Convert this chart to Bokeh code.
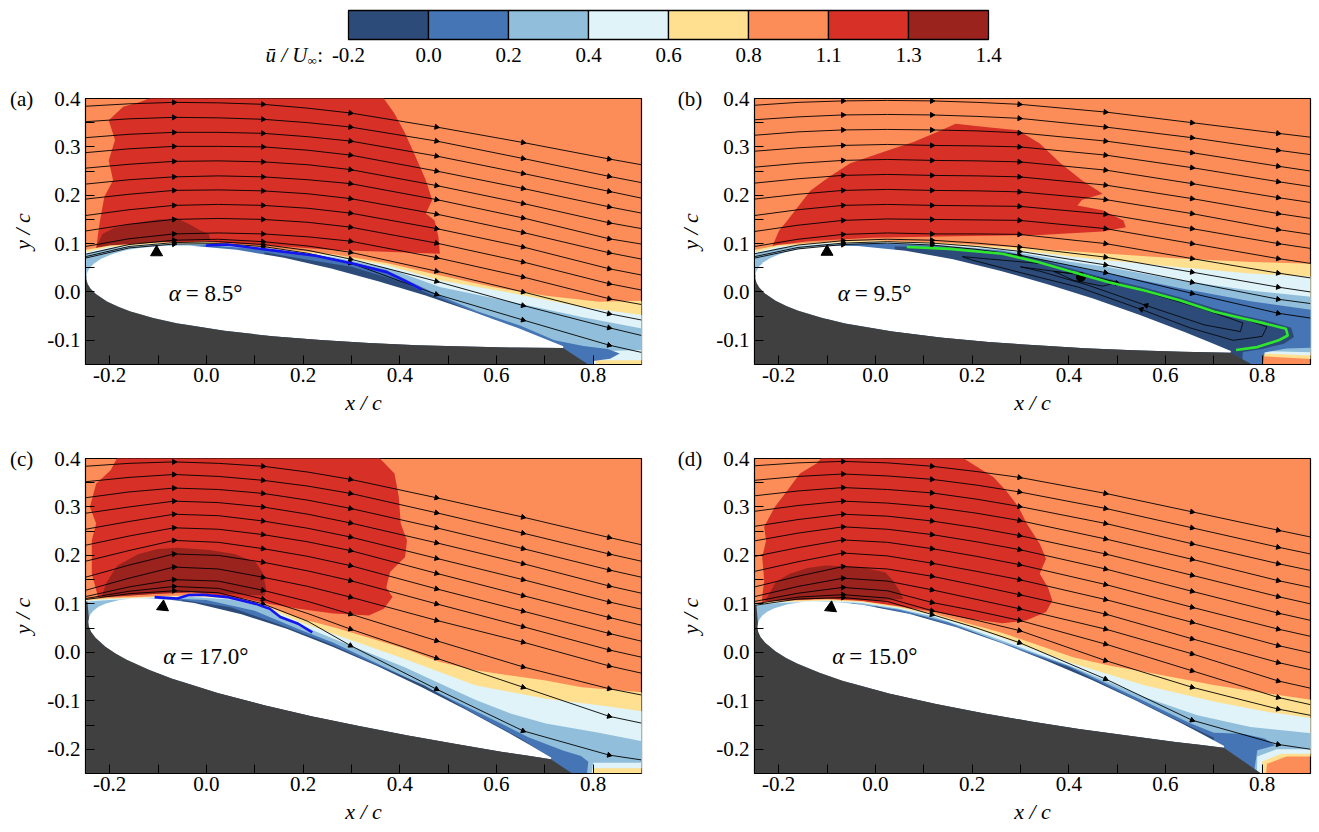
import math
from bokeh.plotting import figure
from bokeh.layouts import column, row
from bokeh.models import Range1d, FixedTicker, NumeralTickFormatter
from bokeh.core.properties import value
from bokeh.embed import file_html
from bokeh.resources import INLINE

FONT = "'Liberation Serif', 'Times New Roman', serif"

# ---------------- colour scale ----------------
CB_LABELS = ["-0.2", "0.0", "0.2", "0.4", "0.6", "0.8", "1.1", "1.3", "1.4"]
CB_COLORS = ["#2d4b78", "#4575b4", "#91bfdb", "#e0f3f8", "#fee090", "#fc8d59", "#d73027", "#9b231e"]
SHADOW_COLOR = "#404040"

# ---------------- airfoil section (chord fraction, upper / lower ordinate) ----------------
AF_S = [0, 0.001, 0.005, 0.0125, 0.025, 0.05, 0.075, 0.1, 0.15, 0.2, 0.3, 0.4, 0.5, 0.6, 0.7, 0.8, 0.9, 0.95, 1.0]
AF_UP = [0, .0080, .0177, .0278, .0389, .0539, .0646, .0729, .0848, .0927, .0991, .0972, .0895, .0780, .0635, .0455, .0253, .0138, .0018]
AF_LO = [0, -.0078, -.0169, -.0259, -.0352, -.0468, -.0544, -.0598, -.0665, -.0702, -.0710, -.0672, -.0603, -.0513, -.0410, -.0288, -.0161, -.0090, -.0018]

# ---------------- axes ----------------
X_TICKS = [-0.2, 0.0, 0.2, 0.4, 0.6, 0.8]
X_MINOR = [-0.1, 0.1, 0.3, 0.5, 0.7]
Y_TICKS_AB = [-0.1, 0.0, 0.1, 0.2, 0.3, 0.4]
Y_MINOR_AB = [-0.15, -0.05, 0.05, 0.15, 0.25, 0.35]
Y_TICKS_CD = [-0.2, -0.1, 0.0, 0.1, 0.2, 0.3, 0.4]
Y_MINOR_CD = [-0.25, -0.15, -0.05, 0.05, 0.15, 0.25, 0.35]

# ---------------- streamline stations ----------------
SX = [-0.25, -0.16, -0.067, 0.025, 0.117, 0.21, 0.298, 0.476, 0.655, 0.833, 0.90]
ARROW_IDX = [2, 4, 6, 7, 8, 9]

# ================= panel (a) alpha = 8.5 =================
ALPHA_A = "8.5"
YBOT_A = -0.15
LE_A = (-0.248, 0.034)
TE_A = (0.738, -0.114)
SHADOW_TOP_A = 0.031
SHADOW_BOTX_A = 0.79
RED_A = [(-0.228, 0.089), (-0.224, 0.12), (-0.22, 0.148), (-0.211, 0.197), (-0.193, 0.231), (-0.202, 0.272),
         (-0.189, 0.314), (-0.202, 0.355), (-0.172, 0.383), (-0.137, 0.393), (-0.093, 0.41), (0.367, 0.41),
         (0.367, 0.4), (0.389, 0.369), (0.411, 0.328), (0.433, 0.279), (0.454, 0.231), (0.467, 0.19),
         (0.454, 0.162), (0.472, 0.148), (0.48, 0.114), (0.483, 0.079), (0.4, 0.082), (0.263, 0.087),
         (0.116, 0.097), (0.0, 0.104), (-0.1, 0.102), (-0.2, 0.094)]
DKRED_A = [(-0.228, 0.092), (-0.215, 0.12), (-0.19, 0.133), (-0.15, 0.142), (-0.1, 0.15), (-0.06, 0.152),
           (-0.035, 0.14), (-0.015, 0.128), (0.005, 0.12), (0.008, 0.107), (-0.05, 0.105), (-0.15, 0.1), (-0.21, 0.095)]
BAND08_A = [(-0.26, 0.085), (-0.2, 0.096), (-0.1, 0.102), (0.0, 0.104), (0.116, 0.093), (0.263, 0.078), (0.373, 0.06),
            (0.483, 0.034), (0.593, 0.01), (0.702, -0.008), (0.812, -0.02), (0.91, -0.018), (0.91, -0.4), (-0.26, -0.4)]
BAND06_A = [(-0.26, 0.08), (-0.2, 0.093), (-0.1, 0.1), (0.0, 0.101), (0.116, 0.091), (0.263, 0.075), (0.373, 0.055),
            (0.483, 0.024), (0.63, -0.002), (0.776, -0.031), (0.91, -0.049), (0.91, -0.141), (0.805, -0.141),
            (0.795, -0.4), (-0.26, -0.4)]
BAND04_A = [(-0.26, 0.075), (-0.2, 0.09), (-0.1, 0.098), (0.0, 0.099), (0.116, 0.089), (0.263, 0.072), (0.373, 0.05),
            (0.483, 0.01), (0.63, -0.02), (0.776, -0.052), (0.91, -0.077), (0.91, -0.12), (0.83, -0.122),
            (0.8, -0.13), (0.79, -0.4), (-0.26, -0.4)]
BAND02_A = [(-0.05, 0.094), (0.0, 0.097), (0.116, 0.088), (0.263, 0.069), (0.373, 0.045), (0.483, -0.008),
            (0.56, -0.04), (0.65, -0.07), (0.72, -0.1), (0.78, -0.112), (0.83, -0.118), (0.855, -0.127),
            (0.835, -0.138), (0.8, -0.143), (0.785, -0.4), (-0.05, -0.4)]
BAND00_A = [(0.12, 0.082), (0.2, 0.068), (0.3, 0.052), (0.4, 0.022), (0.47, -0.008), (0.55, -0.04), (0.6, -0.058),
            (0.6, -0.4), (0.12, -0.4)]
STREAM_A = [
    [0.384, 0.389, 0.392, 0.391, 0.388, 0.380, 0.370, 0.341, 0.309, 0.275, 0.263],
    [0.352, 0.358, 0.361, 0.360, 0.357, 0.350, 0.341, 0.312, 0.276, 0.239, 0.226],
    [0.319, 0.326, 0.330, 0.330, 0.328, 0.321, 0.312, 0.281, 0.245, 0.208, 0.194],
    [0.288, 0.296, 0.301, 0.301, 0.300, 0.293, 0.283, 0.250, 0.214, 0.176, 0.163],
    [0.256, 0.264, 0.270, 0.271, 0.269, 0.263, 0.253, 0.220, 0.183, 0.143, 0.131],
    [0.223, 0.232, 0.238, 0.240, 0.238, 0.232, 0.224, 0.191, 0.153, 0.110, 0.099],
    [0.192, 0.202, 0.210, 0.211, 0.209, 0.203, 0.193, 0.161, 0.123, 0.081, 0.068],
    [0.158, 0.170, 0.179, 0.181, 0.179, 0.173, 0.163, 0.131, 0.093, 0.048, 0.035],
    [0.126, 0.140, 0.150, 0.152, 0.150, 0.144, 0.134, 0.101, 0.062, 0.017, 0.004],
    [0.094, 0.110, 0.120, 0.122, 0.120, 0.114, 0.105, 0.071, 0.031, -0.014, -0.026],
    [0.078, 0.098, 0.107, 0.109, 0.104, 0.095, 0.082, 0.043, 0.000, -0.045, -0.058],
    [0.073, 0.094, 0.102, 0.104, 0.098, 0.086, 0.068, 0.022, -0.028, -0.074, -0.090],
    [0.070, 0.091, 0.099, 0.100, 0.094, 0.080, 0.060, -0.005, -0.058, -0.110, -0.125],
]
SEP_A = [(-0.001, 0.096), (0.043, 0.098), (0.138, 0.086), (0.226, 0.075), (0.307, 0.058), (0.373, 0.041),
         (0.409, 0.024), (0.446, 0.005)]
MARK_A = (-0.103, 0.082)
TEXTPOS_A = (-0.078, -0.004)

# ================= panel (b) alpha = 9.5 =================
ALPHA_B = "9.5"
YBOT_B = -0.15
LE_B = (-0.248, 0.036)
TE_B = (0.735, -0.124)
SHADOW_TOP_B = 0.034
SHADOW_BOTX_B = 0.779
RED_B = [(-0.213, 0.095), (-0.199, 0.127), (-0.182, 0.148), (-0.134, 0.21), (-0.095, 0.238), (-0.052, 0.266),
         (0.027, 0.293), (0.079, 0.31), (0.122, 0.328), (0.166, 0.348), (0.227, 0.341), (0.296, 0.334),
         (0.34, 0.307), (0.383, 0.266), (0.427, 0.231), (0.47, 0.203), (0.427, 0.19), (0.418, 0.179),
         (0.47, 0.169), (0.513, 0.148), (0.518, 0.134), (0.47, 0.125), (0.34, 0.118), (0.166, 0.115),
         (-0.008, 0.112), (-0.139, 0.105), (-0.2, 0.097)]
DKRED_B = []
BAND08_B = [(-0.26, 0.085), (-0.2, 0.097), (-0.1, 0.104), (0.0, 0.107), (0.116, 0.103), (0.263, 0.094), (0.336, 0.089),
            (0.483, 0.079), (0.629, 0.069), (0.776, 0.062), (0.91, 0.058), (0.91, -0.139), (0.80, -0.133),
            (0.785, -0.4), (-0.26, -0.4)]
BAND06_B = [(-0.26, 0.08), (-0.2, 0.094), (-0.1, 0.101), (0.0, 0.104), (0.116, 0.1), (0.263, 0.09), (0.4, 0.074),
            (0.483, 0.065), (0.629, 0.051), (0.776, 0.038), (0.91, 0.031), (0.91, -0.132), (0.80, -0.127),
            (0.78, -0.4), (-0.26, -0.4)]
BAND04_B = [(-0.26, 0.075), (-0.2, 0.091), (-0.1, 0.099), (0.0, 0.102), (0.116, 0.098), (0.263, 0.087), (0.4, 0.063),
            (0.483, 0.051), (0.629, 0.024), (0.776, 0.003), (0.91, -0.011), (0.91, -0.125), (0.80, -0.122),
            (0.775, -0.4), (-0.26, -0.4)]
BAND02_B = [(-0.1, 0.096), (0.0, 0.1), (0.116, 0.096), (0.263, 0.085), (0.4, 0.055), (0.483, 0.038), (0.629, 0.008),
            (0.776, -0.019), (0.91, -0.038), (0.91, -0.115), (0.85, -0.117), (0.805, -0.125), (0.77, -0.4), (-0.1, -0.4)]
BAND00_B = [(0.04, 0.094), (0.153, 0.092), (0.263, 0.081), (0.336, 0.068), (0.409, 0.047), (0.483, 0.027),
            (0.556, 0.009), (0.629, -0.011), (0.702, -0.034), (0.761, -0.049), (0.812, -0.06), (0.86, -0.074),
            (0.866, -0.093), (0.845, -0.107), (0.80, -0.118), (0.76, -0.124), (0.74, -0.4), (0.04, -0.4)]
STREAM_B = [
    [0.386, 0.392, 0.395, 0.396, 0.395, 0.392, 0.388, 0.372, 0.350, 0.328, 0.320],
    [0.356, 0.362, 0.366, 0.367, 0.366, 0.363, 0.359, 0.341, 0.319, 0.293, 0.284],
    [0.324, 0.331, 0.335, 0.336, 0.335, 0.333, 0.329, 0.312, 0.288, 0.260, 0.250],
    [0.291, 0.298, 0.303, 0.305, 0.303, 0.302, 0.300, 0.283, 0.257, 0.228, 0.218],
    [0.258, 0.266, 0.272, 0.274, 0.272, 0.271, 0.269, 0.252, 0.224, 0.195, 0.185],
    [0.225, 0.234, 0.241, 0.243, 0.241, 0.240, 0.238, 0.221, 0.193, 0.162, 0.152],
    [0.192, 0.202, 0.210, 0.212, 0.210, 0.209, 0.207, 0.191, 0.162, 0.129, 0.119],
    [0.158, 0.170, 0.179, 0.181, 0.179, 0.178, 0.177, 0.161, 0.131, 0.100, 0.090],
    [0.125, 0.138, 0.148, 0.151, 0.150, 0.149, 0.148, 0.131, 0.100, 0.069, 0.059],
    [0.094, 0.109, 0.119, 0.122, 0.120, 0.120, 0.119, 0.100, 0.069, 0.039, 0.029],
    [0.079, 0.097, 0.106, 0.109, 0.107, 0.101, 0.093, 0.072, 0.041, 0.010, 0.000],
    [0.073, 0.092, 0.101, 0.104, 0.101, 0.094, 0.084, 0.056, 0.020, -0.015, -0.024],
    [0.070, 0.089, 0.098, 0.101, 0.097, 0.088, 0.076, 0.040, -0.003, -0.044, -0.054],
]
LOOPS_B = [
    [(0.18, 0.073), (0.35, 0.058), (0.5, 0.018), (0.65, -0.025), (0.76, -0.055), (0.81, -0.072), (0.80, -0.092),
     (0.74, -0.10), (0.65, -0.074), (0.55, -0.036), (0.42, 0.010), (0.30, 0.040), (0.2, 0.066), (0.18, 0.073)],
    [(0.30, 0.052), (0.42, 0.036), (0.55, 0.003), (0.68, -0.036), (0.76, -0.064), (0.755, -0.082), (0.68, -0.068),
     (0.56, -0.028), (0.44, 0.014), (0.34, 0.043), (0.30, 0.052)],
    [(0.37, 0.042), (0.43, 0.036), (0.50, 0.02), (0.47, 0.012), (0.41, 0.024), (0.37, 0.042)],
]
LOOP_ARROWS_B = [(0, 2), (0, 9), (1, 7)]
VORTEX_B = (0.425, 0.031)
SEP_B = [(0.065, 0.093), (0.153, 0.089), (0.263, 0.079), (0.336, 0.062), (0.409, 0.041), (0.483, 0.02),
         (0.556, 0.003), (0.629, -0.017), (0.702, -0.041), (0.761, -0.055), (0.805, -0.065), (0.849, -0.076),
         (0.853, -0.09), (0.834, -0.1), (0.79, -0.114), (0.746, -0.12)]
MARK_B = (-0.1, 0.083)
TEXTPOS_B = (-0.078, -0.004)

# ================= panel (c) alpha = 17.0 =================
ALPHA_C = "17.0"
YBOT_C = -0.25
LE_C = (-0.243, 0.071)
TE_C = (0.713, -0.219)
SHADOW_TOP_C = 0.105
SHADOW_BOTX_C = 0.757
RED_C = [(-0.224, 0.114), (-0.237, 0.162), (-0.237, 0.231), (-0.228, 0.266), (-0.241, 0.3), (-0.228, 0.348),
         (-0.198, 0.376), (-0.18, 0.41), (0.359, 0.41), (0.359, 0.4), (0.389, 0.369), (0.398, 0.321),
         (0.402, 0.266), (0.415, 0.231), (0.411, 0.197), (0.38, 0.166), (0.372, 0.134), (0.385, 0.114),
         (0.367, 0.09), (0.336, 0.076), (0.263, 0.08), (0.19, 0.09), (0.131, 0.1), (0.08, 0.111),
         (-0.03, 0.124), (-0.103, 0.121), (-0.177, 0.117)]
DKRED_C = [(-0.217, 0.114), (-0.206, 0.145), (-0.184, 0.179), (-0.14, 0.203), (-0.1, 0.213), (-0.059, 0.216),
           (0.006, 0.211), (0.058, 0.203), (0.102, 0.186), (0.116, 0.166), (0.124, 0.131), (0.12, 0.117),
           (0.043, 0.121), (-0.03, 0.124), (-0.103, 0.121), (-0.177, 0.116)]
BAND08_C = [(-0.26, 0.108), (-0.2, 0.112), (-0.1, 0.116), (-0.03, 0.118), (0.05, 0.113), (0.116, 0.1), (0.19, 0.071),
            (0.263, 0.052), (0.336, 0.03), (0.409, 0.008), (0.483, -0.02), (0.556, -0.037), (0.629, -0.048),
            (0.702, -0.058), (0.776, -0.072), (0.91, -0.083), (0.91, -0.4), (-0.26, -0.4)]
BAND06_C = [(-0.26, 0.106), (-0.2, 0.110), (-0.1, 0.114), (-0.03, 0.116), (0.05, 0.111), (0.116, 0.097), (0.19, 0.064),
            (0.263, 0.038), (0.409, -0.013), (0.556, -0.068), (0.702, -0.096), (0.812, -0.109), (0.91, -0.123),
            (0.91, -0.239), (0.80, -0.239), (0.78, -0.4), (-0.26, -0.4)]
BAND04_C = [(-0.26, 0.104), (-0.2, 0.108), (-0.1, 0.112), (-0.03, 0.114), (0.05, 0.109), (0.116, 0.094), (0.19, 0.058),
            (0.263, 0.028), (0.409, -0.03), (0.556, -0.098), (0.629, -0.126), (0.702, -0.147), (0.812, -0.166),
            (0.91, -0.185), (0.91, -0.228), (0.80, -0.228), (0.775, -0.4), (-0.26, -0.4)]
BAND02_C = [(-0.1, 0.112), (0.0, 0.108), (0.1, 0.086), (0.19, 0.048), (0.263, 0.02), (0.4, -0.045), (0.55, -0.118),
            (0.62, -0.152), (0.666, -0.175), (0.739, -0.203), (0.775, -0.214), (0.79, -0.226), (0.77, -0.4), (-0.1, -0.4)]
BAND00_C = [(-0.05, 0.108), (0.05, 0.093), (0.15, 0.058), (0.25, 0.02), (0.35, -0.025), (0.45, -0.068), (0.55, -0.124),
            (0.65, -0.178), (0.7, -0.21), (0.71, -0.4), (-0.05, -0.4)]
STREAM_C = [
    [0.384, 0.390, 0.393, 0.390, 0.384, 0.372, 0.357, 0.319, 0.279, 0.237, 0.222],
    [0.352, 0.361, 0.367, 0.363, 0.355, 0.343, 0.328, 0.288, 0.246, 0.203, 0.188],
    [0.319, 0.331, 0.339, 0.336, 0.328, 0.314, 0.297, 0.257, 0.214, 0.170, 0.155],
    [0.287, 0.300, 0.312, 0.309, 0.300, 0.285, 0.267, 0.226, 0.183, 0.137, 0.122],
    [0.254, 0.270, 0.285, 0.282, 0.271, 0.256, 0.238, 0.194, 0.150, 0.104, 0.089],
    [0.221, 0.240, 0.257, 0.254, 0.243, 0.228, 0.210, 0.163, 0.117, 0.072, 0.056],
    [0.188, 0.210, 0.231, 0.227, 0.214, 0.198, 0.179, 0.131, 0.085, 0.039, 0.023],
    [0.155, 0.180, 0.203, 0.200, 0.186, 0.168, 0.148, 0.100, 0.053, 0.005, -0.010],
    [0.128, 0.153, 0.176, 0.172, 0.155, 0.136, 0.114, 0.066, 0.021, -0.028, -0.043],
    [0.115, 0.135, 0.150, 0.147, 0.128, 0.105, 0.079, 0.024, -0.030, -0.075, -0.088],
    [0.111, 0.126, 0.136, 0.132, 0.110, 0.080, 0.048, -0.012, -0.072, -0.132, -0.146],
    [0.109, 0.121, 0.127, 0.123, 0.100, 0.064, 0.014, -0.076, -0.162, -0.212, -0.222],
]
SEP_C = [(-0.107, 0.114), (-0.06, 0.111), (-0.038, 0.118), (-0.008, 0.119), (0.043, 0.114), (0.102, 0.1),
         (0.131, 0.09), (0.153, 0.073), (0.19, 0.059), (0.219, 0.041)]
MARK_C = (-0.09, 0.094)
TEXTPOS_C = (-0.089, -0.008)

# ================= panel (d) alpha = 15.0 =================
ALPHA_D = "15.0"
YBOT_D = -0.25
LE_D = (-0.243, 0.060)
TE_D = (0.721, -0.195)
SHADOW_TOP_D = 0.097
SHADOW_BOTX_D = 0.798
RED_D = [(-0.234, 0.104), (-0.234, 0.114), (-0.23, 0.148), (-0.234, 0.197), (-0.226, 0.231), (-0.23, 0.259),
         (-0.208, 0.3), (-0.182, 0.334), (-0.156, 0.369), (-0.121, 0.39), (-0.104, 0.41), (0.183, 0.41),
         (0.183, 0.4), (0.205, 0.386), (0.244, 0.362), (0.27, 0.334), (0.296, 0.3), (0.313, 0.266),
         (0.34, 0.224), (0.353, 0.193), (0.34, 0.162), (0.357, 0.134), (0.366, 0.107), (0.353, 0.083),
         (0.313, 0.066), (0.263, 0.06), (0.19, 0.07), (0.116, 0.085), (0.043, 0.096), (-0.03, 0.106),
         (-0.1, 0.111), (-0.2, 0.107)]
DKRED_D = [(-0.228, 0.106), (-0.206, 0.145), (-0.177, 0.162), (-0.14, 0.174), (-0.103, 0.179), (-0.03, 0.176),
           (0.021, 0.165), (0.036, 0.148), (0.05, 0.127), (0.058, 0.11), (0.0, 0.107), (-0.1, 0.111), (-0.2, 0.107)]
BAND08_D = [(-0.26, 0.1), (-0.2, 0.106), (-0.1, 0.109), (-0.03, 0.106), (0.043, 0.095), (0.116, 0.081), (0.19, 0.06),
            (0.263, 0.04), (0.336, 0.015), (0.409, -0.01), (0.483, -0.027), (0.556, -0.04), (0.629, -0.054),
            (0.702, -0.068), (0.812, -0.085), (0.91, -0.099), (0.91, -0.215), (0.85, -0.215), (0.81, -0.23),
            (0.795, -0.4), (-0.26, -0.4)]
BAND06_D = [(-0.26, 0.098), (-0.2, 0.104), (-0.1, 0.107), (-0.03, 0.104), (0.043, 0.093), (0.116, 0.078), (0.19, 0.055),
            (0.263, 0.03), (0.409, -0.023), (0.556, -0.068), (0.702, -0.102), (0.812, -0.123), (0.91, -0.137),
            (0.91, -0.209), (0.84, -0.209), (0.80, -0.225), (0.79, -0.4), (-0.26, -0.4)]
BAND04_D = [(-0.26, 0.096), (-0.2, 0.102), (-0.1, 0.105), (-0.03, 0.102), (0.043, 0.091), (0.116, 0.075), (0.19, 0.05),
            (0.263, 0.024), (0.409, -0.03), (0.556, -0.092), (0.666, -0.13), (0.776, -0.154), (0.91, -0.168),
            (0.91, -0.2), (0.83, -0.2), (0.79, -0.215), (0.785, -0.4), (-0.26, -0.4)]
BAND02_D = [(-0.05, 0.102), (0.05, 0.088), (0.15, 0.062), (0.263, 0.02), (0.4, -0.028), (0.55, -0.098), (0.65, -0.146),
            (0.70, -0.166), (0.76, -0.168), (0.805, -0.178), (0.827, -0.192), (0.79, -0.202), (0.76, -0.4), (-0.05, -0.4)]
BAND00_D = [(0.0, 0.095), (0.1, 0.073), (0.2, 0.042), (0.3, 0.004), (0.4, -0.031), (0.5, -0.079), (0.6, -0.128),
            (0.7, -0.176), (0.71, -0.4), (0.0, -0.4)]
STREAM_D = [
    [0.385, 0.391, 0.394, 0.391, 0.384, 0.373, 0.361, 0.328, 0.290, 0.252, 0.238],
    [0.355, 0.363, 0.368, 0.364, 0.357, 0.345, 0.331, 0.297, 0.257, 0.217, 0.203],
    [0.323, 0.333, 0.340, 0.336, 0.329, 0.316, 0.301, 0.266, 0.224, 0.183, 0.169],
    [0.291, 0.303, 0.312, 0.308, 0.300, 0.287, 0.272, 0.234, 0.192, 0.148, 0.134],
    [0.260, 0.274, 0.285, 0.281, 0.271, 0.257, 0.241, 0.203, 0.159, 0.115, 0.100],
    [0.230, 0.246, 0.259, 0.254, 0.243, 0.228, 0.212, 0.172, 0.126, 0.081, 0.066],
    [0.198, 0.216, 0.232, 0.227, 0.214, 0.198, 0.181, 0.140, 0.093, 0.048, 0.033],
    [0.167, 0.187, 0.205, 0.199, 0.184, 0.167, 0.150, 0.109, 0.062, 0.014, -0.001],
    [0.135, 0.157, 0.177, 0.172, 0.157, 0.138, 0.119, 0.079, 0.028, -0.021, -0.036],
    [0.115, 0.136, 0.153, 0.147, 0.129, 0.109, 0.090, 0.048, -0.003, -0.059, -0.074],
    [0.105, 0.122, 0.134, 0.127, 0.103, 0.085, 0.066, 0.017, -0.038, -0.093, -0.108],
    [0.100, 0.114, 0.119, 0.112, 0.086, 0.066, 0.045, -0.017, -0.072, -0.117, -0.130],
    [0.097, 0.110, 0.113, 0.105, 0.078, 0.050, 0.020, -0.055, -0.140, -0.190, -0.200],
]
SEP_D = []
MARK_D = (-0.092, 0.092)
TEXTPOS_D = (-0.089, -0.008)

SEP_BLUE = "#1414ee"
SEP_GREEN = "#2ee62e"
NBSP = "\u00a0"


def xy(pts):
    return [p[0] for p in pts], [p[1] for p in pts]


def airfoil(le, te):
    lx, ly = le
    dx, dy = te[0] - lx, te[1] - ly
    c = math.hypot(dx, dy)
    ux, uy = dx / c, dy / c
    nx, ny = -uy, ux

    def pt(s, t):
        return (lx + c * (s * ux + t * nx), ly + c * (s * uy + t * ny))

    upper = [pt(s, t) for s, t in zip(AF_S, AF_UP)]
    lower = [pt(s, t) for s, t in zip(AF_S, AF_LO)]
    return upper, lower


def style_axes(p, tag, yticks, yminor):
    p.grid.visible = False
    p.xaxis.ticker = FixedTicker(ticks=X_TICKS, minor_ticks=X_MINOR)
    p.yaxis.ticker = FixedTicker(ticks=yticks, minor_ticks=yminor)
    p.xaxis.formatter = NumeralTickFormatter(format="0.0")
    p.yaxis.formatter = NumeralTickFormatter(format="0.0")
    # panel tag printed in line with the top tick label
    p.yaxis.major_label_overrides = {0.4: "(" + tag + ")" + NBSP * 4 + "0.4"}
    for ax in (p.xaxis[0], p.yaxis[0]):
        ax.major_tick_in = 9
        ax.major_tick_out = 0
        ax.minor_tick_in = 9
        ax.minor_tick_out = 0
        ax.major_tick_line_color = "black"
        ax.minor_tick_line_color = "black"
        ax.axis_line_color = "black"
        ax.major_label_text_font = FONT
        ax.major_label_text_font_size = "21px"
        ax.major_label_text_color = "black"
        ax.axis_label_text_font = FONT
        ax.axis_label_text_font_size = "22px"
        ax.axis_label_text_font_style = "italic"
        ax.axis_label_text_color = "black"
    p.xaxis.axis_label = "x / c"
    p.yaxis.axis_label = "y / c"
    p.xaxis.major_label_standoff = 3
    p.xaxis.axis_label_standoff = 5
    p.yaxis.major_label_standoff = 5
    p.yaxis.axis_label_standoff = -28


def make_panel(tag, alpha, ybot, le, te, sh_top, sh_botx, red, dkred, bands, streams, sep, sep_color,
               mark, textpos, frame_h, bl, br, bt, bb, yticks, yminor, loops=None, loop_arrows=None, vortex=None):
    p = figure(frame_width=556, frame_height=frame_h, x_range=Range1d(-0.25, 0.9), y_range=Range1d(ybot, 0.4),
               output_backend="svg", toolbar_location=None,
               min_border_left=bl, min_border_right=br, min_border_top=bt, min_border_bottom=bb)
    p.background_fill_color = CB_COLORS[5]
    p.border_fill_color = "white"
    p.outline_line_color = "black"
    p.outline_line_width = 1.2
    style_axes(p, tag, yticks, yminor)

    # velocity contour regions
    if red:
        x, y = xy(red)
        p.patch(x, y, fill_color=CB_COLORS[6], line_color=None)
    if dkred:
        x, y = xy(dkred)
        p.patch(x, y, fill_color=CB_COLORS[7], line_color=None)
    for pts, col in zip(bands, [CB_COLORS[4], CB_COLORS[3], CB_COLORS[2], CB_COLORS[1], CB_COLORS[0]]):
        x, y = xy(pts)
        p.patch(x, y, fill_color=col, line_color=None)

    # airfoil and laser shadow
    upper, lower = airfoil(le, te)
    body = upper[::-1] + lower[1:]
    x, y = xy(body)
    p.patch(x, y, fill_color="white", line_color=None)
    shadow = [(-0.26, sh_top), (le[0] - 0.003, sh_top)] + lower + [(sh_botx, ybot), (sh_botx, ybot - 0.2), (-0.26, ybot - 0.2)]
    x, y = xy(shadow)
    p.patch(x, y, fill_color=SHADOW_COLOR, line_color=None)

    # streamlines
    p.multi_line(xs=[SX] * len(streams), ys=streams, line_color="black", line_width=0.9)
    ax_, ay_, aa_ = [], [], []
    for ys in streams:
        for i in ARROW_IDX:
            if ybot < ys[i] < 0.4:
                ang = math.atan2(ys[i + 1] - ys[i - 1], SX[i + 1] - SX[i - 1])
                ax_.append(SX[i]); ay_.append(ys[i]); aa_.append(ang - math.pi / 2)
    if loops:
        for lp in loops:
            x, y = xy(lp)
            p.line(x, y, line_color="black", line_width=0.8)
        for li, vi in loop_arrows:
            lp = loops[li]
            ang = math.atan2(lp[vi + 1][1] - lp[vi - 1][1], lp[vi + 1][0] - lp[vi - 1][0])
            ax_.append(lp[vi][0]); ay_.append(lp[vi][1]); aa_.append(ang - math.pi / 2)
    p.scatter(ax_, ay_, marker="triangle", size=5, angle=aa_, fill_color="black", line_color="black")
    if vortex:
        p.scatter([vortex[0]], [vortex[1]], marker="circle", size=9, fill_color="black", line_color="black")

    if sep:
        x, y = xy(sep)
        p.line(x, y, line_color=sep_color, line_width=2.6)

    p.scatter([mark[0]], [mark[1]], marker="triangle", size=12, fill_color="black", line_color="black",
              angle=-0.1 if ybot < -0.2 else 0.0)

    p.text(x=[textpos[0]], y=[textpos[1]], text=["α"], text_font=value(FONT), text_font_style="italic",
           text_font_size="23px", text_baseline="middle", text_color="black")
    p.text(x=[textpos[0]], y=[textpos[1]], x_offset=17, text=["= " + alpha + "°"], text_font=value(FONT),
           text_font_size="23px", text_baseline="middle", text_color="black")
    return p


# ---------------- colour bar ----------------
cb = figure(width=1319, height=80, x_range=Range1d(-348 / 80, (1319 - 348) / 80), y_range=Range1d(80, 0),
            output_backend="svg", toolbar_location=None, min_border=0,
            x_axis_location=None, y_axis_location=None)
cb.outline_line_color = None
cb.grid.visible = False
idx = list(range(len(CB_COLORS)))
cb.quad(left=idx, right=[i + 1 for i in idx], top=[10] * len(idx), bottom=[39] * len(idx),
        fill_color=CB_COLORS, line_color="black", line_width=1.3)
cb.text(x=list(range(len(CB_LABELS))), y=[54] * len(CB_LABELS), text=CB_LABELS, text_align="center",
        text_baseline="middle", text_font=value(FONT), text_font_size="21px", text_color="black")
cb.text(x=[-0.5125], y=[54], text=["ū / U"], text_align="right", text_baseline="middle",
        text_font=value(FONT), text_font_style="italic", text_font_size="21px", text_color="black")
cb.text(x=[-0.5125], y=[60], text=["∞"], text_align="left", text_baseline="middle",
        text_font=value(FONT), text_font_size="13px", text_color="black")
cb.text(x=[-0.39], y=[54], text=[":"], text_align="left", text_baseline="middle",
        text_font=value(FONT), text_font_size="21px", text_color="black")

pa = make_panel("a", ALPHA_A, YBOT_A, LE_A, TE_A, SHADOW_TOP_A, SHADOW_BOTX_A, RED_A, DKRED_A,
                [BAND08_A, BAND06_A, BAND04_A, BAND02_A, BAND00_A], STREAM_A, SEP_A, SEP_BLUE, MARK_A, TEXTPOS_A,
                266, 85, 19, 18, 78, Y_TICKS_AB, Y_MINOR_AB)
pb = make_panel("b", ALPHA_B, YBOT_B, LE_B, TE_B, SHADOW_TOP_B, SHADOW_BOTX_B, RED_B, DKRED_B,
                [BAND08_B, BAND06_B, BAND04_B, BAND02_B, BAND00_B], STREAM_B, SEP_B, SEP_GREEN, MARK_B, TEXTPOS_B,
                266, 94, 9, 18, 78, Y_TICKS_AB, Y_MINOR_AB, loops=LOOPS_B, loop_arrows=LOOP_ARROWS_B, vortex=VORTEX_B)
pc = make_panel("c", ALPHA_C, YBOT_C, LE_C, TE_C, SHADOW_TOP_C, SHADOW_BOTX_C, RED_C, DKRED_C,
                [BAND08_C, BAND06_C, BAND04_C, BAND02_C, BAND00_C], STREAM_C, SEP_C, SEP_BLUE, MARK_C, TEXTPOS_C,
                315, 85, 19, 16, 59, Y_TICKS_CD, Y_MINOR_CD)
pd_ = make_panel("d", ALPHA_D, YBOT_D, LE_D, TE_D, SHADOW_TOP_D, SHADOW_BOTX_D, RED_D, DKRED_D,
                 [BAND08_D, BAND06_D, BAND04_D, BAND02_D, BAND00_D], STREAM_D, SEP_D, SEP_BLUE, MARK_D, TEXTPOS_D,
                 315, 94, 9, 16, 59, Y_TICKS_CD, Y_MINOR_CD)

layout = column(cb, row(pa, pb), row(pc, pd_))
open("out.html", "w").write(file_html(layout, INLINE))
